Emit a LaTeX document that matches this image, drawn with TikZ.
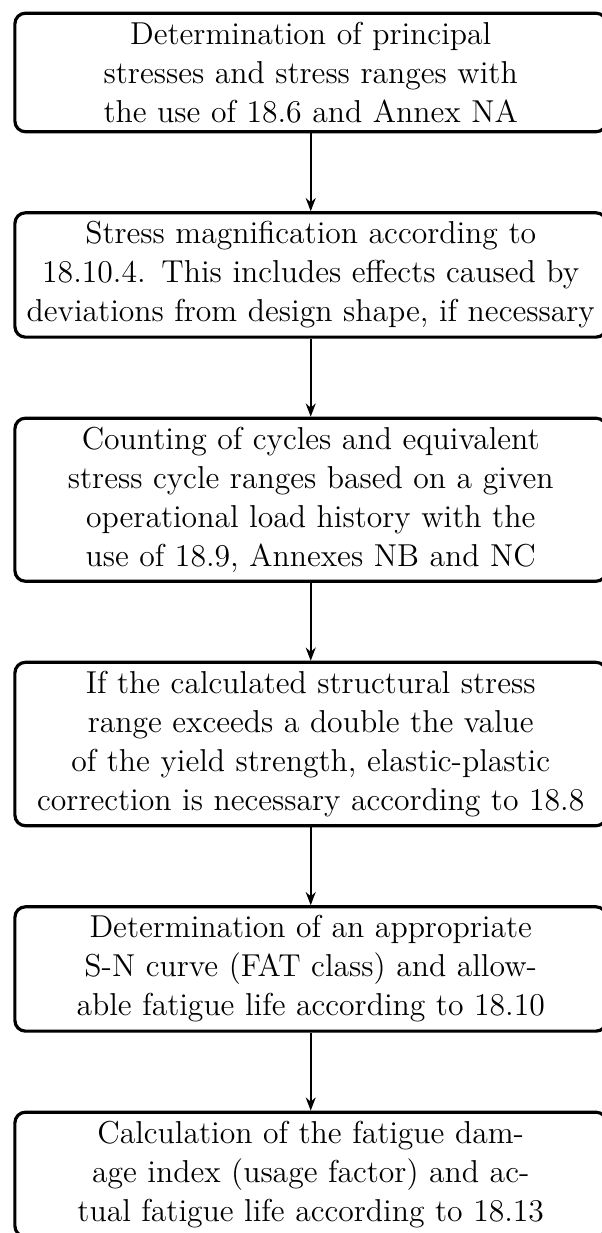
\documentclass[tikz,border=0pt]{standalone}
\usepackage{tikz}
\usetikzlibrary{arrows.meta, positioning}

\begin{document}
\begin{tikzpicture}[
    box/.style={rectangle, draw, very thick, rounded corners, inner sep=3.3pt, text width=217.5pt, align=center, font=\fontsize{12}{14.8}\selectfont},
    arrow/.style={-{Stealth[length=5pt, width=3.8pt]}, line width=0.6pt},
    node distance=29.5pt
]
    \useasboundingbox (-117.7pt,4.4pt) rectangle (110pt,-462.65pt);
    \node[box, anchor=north] (stress) at (0,0) {Determination of principal\\ stresses and stress ranges with\\ the use of 18.6 and Annex NA};
    \node[box, below=of stress] (magnif) {Stress magnification according to\\ 18.10.4. This includes effects caused by\\ deviations from design shape, if necessary};
    \node[box, below=of magnif] (cycles) {Counting of cycles and equivalent\\ stress cycle ranges based on a given\\ operational load history with the\\ use of 18.9, Annexes NB and NC};
    \node[box, below=of cycles] (plastic) {If the calculated structural stress\\ range exceeds a double the value\\ of the yield strength, elastic-plastic\\ correction is necessary according to 18.8};
    \node[box, below=of plastic] (sncurve) {Determination of an appropriate\\ S-N curve (FAT class) and allow-\\ able fatigue life according to 18.10};
    \node[box, below=of sncurve] (damage) {Calculation of the fatigue dam-\\ age index (usage factor) and ac-\\ tual fatigue life according to 18.13};

    \draw[arrow] (stress) -- (magnif);
    \draw[arrow] (magnif) -- (cycles);
    \draw[arrow] (cycles) -- (plastic);
    \draw[arrow] (plastic) -- (sncurve);
    \draw[arrow] (sncurve) -- (damage);
\end{tikzpicture}
\end{document}
